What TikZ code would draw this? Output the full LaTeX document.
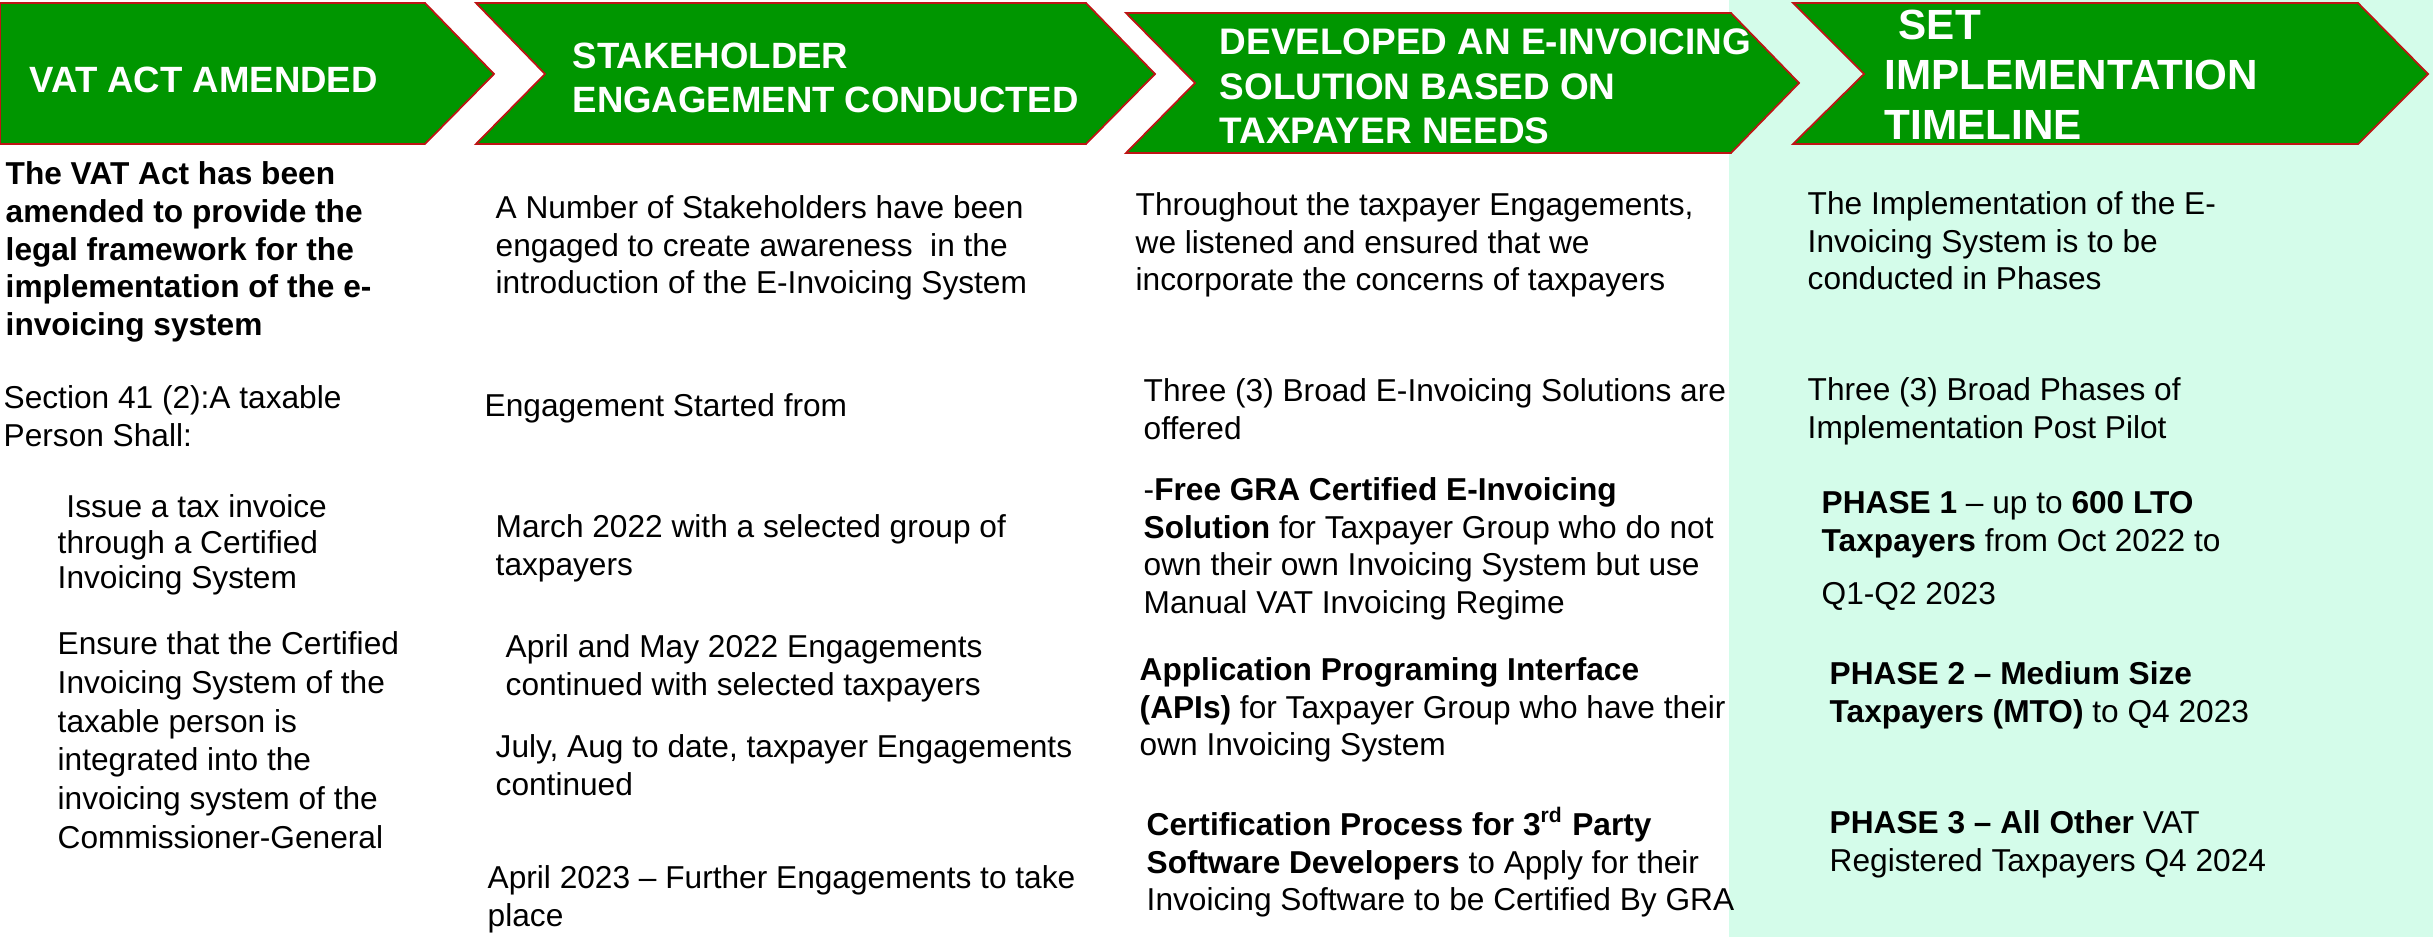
\documentclass[tikz,border=0pt]{standalone}
\usepackage{fontspec}
\setmainfont{Liberation Sans}
\definecolor{arrowgreen}{RGB}{0,150,0}
\definecolor{edgered}{RGB}{190,20,20}
\definecolor{mintbg}{RGB}{212,252,234}
\tikzset{
	chevron/.style={fill=arrowgreen, draw=edgered, line width=0.5pt},
	head/.style={anchor=north west, inner sep=0pt, text=white, align=left, font=\bfseries\fontsize{10.4}{12.5}\selectfont},
	body/.style={anchor=north west, inner sep=0pt, align=left, font=\fontsize{9}{10.7}\selectfont},
}
\begin{document}
\begin{tikzpicture}[x=0.01cm, y=-0.01cm]
	\useasboundingbox (0,0) rectangle (2433,937);
	% draw background of last column
	\fill[mintbg] (1729,0) rectangle (2433,937);
	% draw chevrons
	\draw[chevron] (0,3) -- (425,3) -- (494,74) -- (425,144) -- (0,144) -- cycle;
	\draw[chevron] (476,3) -- (1086,3) -- (1155,74) -- (1086,144) -- (476,144) -- (545,74) -- cycle;
	\draw[chevron] (1126,13) -- (1731,13) -- (1799,83) -- (1731,153) -- (1126,153) -- (1195,83) -- cycle;
	\draw[chevron] (1793,3) -- (2358,3) -- (2428,74) -- (2358,144) -- (1793,144) -- (1864,74) -- cycle;
	% draw headings
	\node[head] (vatact) at (29,66) {VAT ACT AMENDED};
	\node[head] (stakeholder) at (572,42) {STAKEHOLDER\\ENGAGEMENT CONDUCTED};
	\node[head, font=\bfseries\fontsize{10.5}{12.7}\selectfont] (developed) at (1219,28) {DEVELOPED AN E-INVOICING\\SOLUTION BASED ON\\TAXPAYER NEEDS};
	\node[head, font=\bfseries\fontsize{12}{14.2}\selectfont] (timeline) at (1884,9) {\hspace{4pt}SET\\IMPLEMENTATION\\TIMELINE};
	% first column
	\node[body, font=\bfseries\fontsize{9}{10.74}\selectfont] (vatbold) at (5,161) {The VAT Act has been\\amended to provide the\\legal framework for the\\implementation of the e-\\invoicing system};
	\node[body] (section) at (3,385) {Section 41 (2):A taxable\\Person Shall:};
	\node[body, font=\fontsize{9}{10.1}\selectfont] (issue) at (57,494) {\ Issue a tax invoice\\through a Certified\\Invoicing System};
	\node[body, font=\fontsize{9}{11}\selectfont] (ensure) at (57,631) {Ensure that the Certified\\Invoicing System of the\\taxable person is\\integrated into the\\invoicing system of the\\Commissioner-General};
	% second column
	\node[body] (number) at (495,195) {A Number of Stakeholders have been\\engaged to create awareness\ \ in the\\introduction of the E-Invoicing System};
	\node[body] (started) at (484,393) {Engagement Started from};
	\node[body] (march) at (495,514) {March 2022 with a selected group of\\taxpayers};
	\node[body] (aprilmay) at (505,634) {April and May 2022 Engagements\\continued with selected taxpayers};
	\node[body] (july) at (495,734) {July, Aug to date, taxpayer Engagements\\continued};
	\node[body] (april) at (487,865) {April 2023 – Further Engagements to take\\place};
	% third column
	\node[body] (throughout) at (1135,192) {Throughout the taxpayer Engagements,\\we listened and ensured that we\\incorporate the concerns of taxpayers};
	\node[body] (solutions) at (1143,378) {Three (3) Broad E-Invoicing Solutions are\\offered};
	\node[body] (free) at (1143,477) {-\textbf{Free GRA Certified E-Invoicing}\\\textbf{Solution} for Taxpayer Group who do not\\own their own Invoicing System but use\\Manual VAT Invoicing Regime};
	\node[body] (api) at (1139,657) {\textbf{Application Programing Interface}\\\textbf{(APIs)} for Taxpayer Group who have their\\own Invoicing System};
	\node[body] (certification) at (1146,812) {\textbf{Certification Process for 3\smash{\textsuperscript{rd}} Party}\\\textbf{Software Developers} to Apply for their\\Invoicing Software to be Certified By GRA};
	% fourth column
	\node[body] (phases) at (1807,191) {The Implementation of the E-\\Invoicing System is to be\\conducted in Phases};
	\node[body] (broad) at (1807,377) {Three (3) Broad Phases of\\Implementation Post Pilot};
	\node[body] (phaseone) at (1821,491) {\textbf{PHASE 1} – up to \textbf{600 LTO}\\\textbf{Taxpayers} from Oct 2022 to\\[4.4pt]Q1-Q2 2023};
	\node[body] (phasetwo) at (1829,661) {\textbf{PHASE 2 – Medium Size}\\\textbf{Taxpayers (MTO)} to Q4 2023};
	\node[body] (phasethree) at (1829,810) {\textbf{PHASE 3 – All Other} VAT\\Registered Taxpayers Q4 2024};
\end{tikzpicture}
\end{document}
